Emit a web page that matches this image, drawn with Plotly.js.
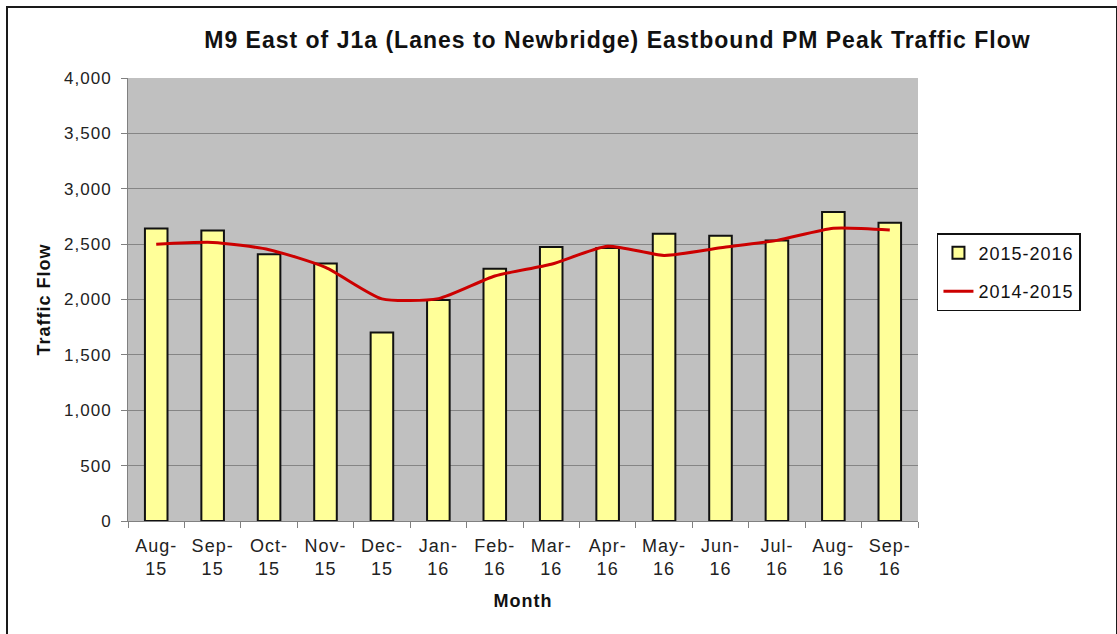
<!DOCTYPE html>
<html>
<head>
<meta charset="utf-8">
<script src="https://cdn.plot.ly/plotly-3.0.1.min.js"></script>
<style>
html,body{margin:0;padding:0;background:#fff;overflow:hidden;}
#wrap{position:relative;width:1117px;height:634px;overflow:hidden;}
#chart{position:absolute;left:0;top:0;width:1117px;height:634px;}
#frame{position:absolute;left:6px;top:6px;width:1108px;height:700px;border:2px solid #1a1a1a;pointer-events:none;}
text{letter-spacing:1px;}
</style>
</head>
<body>
<div id="wrap"><div id="chart"></div><div id="frame"></div></div>
<script>
var months = ["Aug-<br>15","Sep-<br>15","Oct-<br>15","Nov-<br>15","Dec-<br>15","Jan-<br>16","Feb-<br>16","Mar-<br>16","Apr-<br>16","May-<br>16","Jun-<br>16","Jul-<br>16","Aug-<br>16","Sep-<br>16"];
var flow2015_2016 = [2640, 2622, 2408, 2324, 1702, 1995, 2278, 2475, 2466, 2594, 2576, 2532, 2790, 2693];
var flow2014_2015 = [2498, 2515, 2450, 2290, 2006, 2008, 2212, 2318, 2481, 2398, 2467, 2534, 2644, 2628];
var yTicks = [0,500,1000,1500,2000,2500,3000,3500,4000];

var font = "Liberation Sans, Arial, sans-serif";
var data = [
  {type:"bar", x:months, y:flow2015_2016, name:"2015-2016", width:0.4, legendgroup:"a",
   marker:{color:"#ffff99", line:{color:"#111", width:2}}},
  {type:"scatter", mode:"lines", x:months, y:flow2014_2015, name:"2014-2015", legendgroup:"b",
   line:{color:"#cc0000", width:3, shape:"spline", smoothing:0.6}}
];
var layout = {
  width:1117, height:634,
  margin:{l:128, r:199, t:78, b:113},
  paper_bgcolor:"rgba(0,0,0,0)", plot_bgcolor:"#c0c0c0",
  font:{family:font, size:17, color:"#222"},
  title:{text:"<b>M9 East of J1a (Lanes to Newbridge) Eastbound PM Peak Traffic Flow</b>",
    font:{family:font, size:23, color:"#111"}, x:0.5528, xanchor:"center", y:0.937, yanchor:"middle", xref:"container", yref:"container"},
  xaxis:{type:"category", tickson:"boundaries", ticks:"outside", ticklen:6, tickcolor:"#808080",
    showline:true, linecolor:"#808080", linewidth:1, showgrid:false, ticklabelstandoff:8,
    tickfont:{family:font, size:18, color:"#222"},
    title:{text:"<b>Month</b>", font:{family:font, size:18, color:"#111"}, standoff:16}},
  yaxis:{range:[0,4000], tickvals:yTicks, ticktext:yTicks.map(function(v){return v.toLocaleString("en-US");}),
    ticks:"outside", ticklen:6, tickcolor:"#808080", ticklabelstandoff:6,
    showline:true, linecolor:"#808080", linewidth:1, showgrid:true, gridcolor:"#858585", gridwidth:1,
    zeroline:false, tickfont:{family:font, size:17, color:"#222"},
    title:{text:"<b>Traffic Flow</b>", font:{family:font, size:18, color:"#111"}, standoff:8}},
  legend:{x:1.024, xanchor:"left", y:0.562, yanchor:"middle", bgcolor:"#fff", bordercolor:"#111", borderwidth:1.5,
    font:{family:font, size:18, color:"#111"}, traceorder:"grouped", tracegroupgap:12},
  bargap:0.6, showlegend:true
};
Plotly.newPlot("chart", data, layout, {displayModeBar:false, staticPlot:true});
</script>
</body>
</html>
